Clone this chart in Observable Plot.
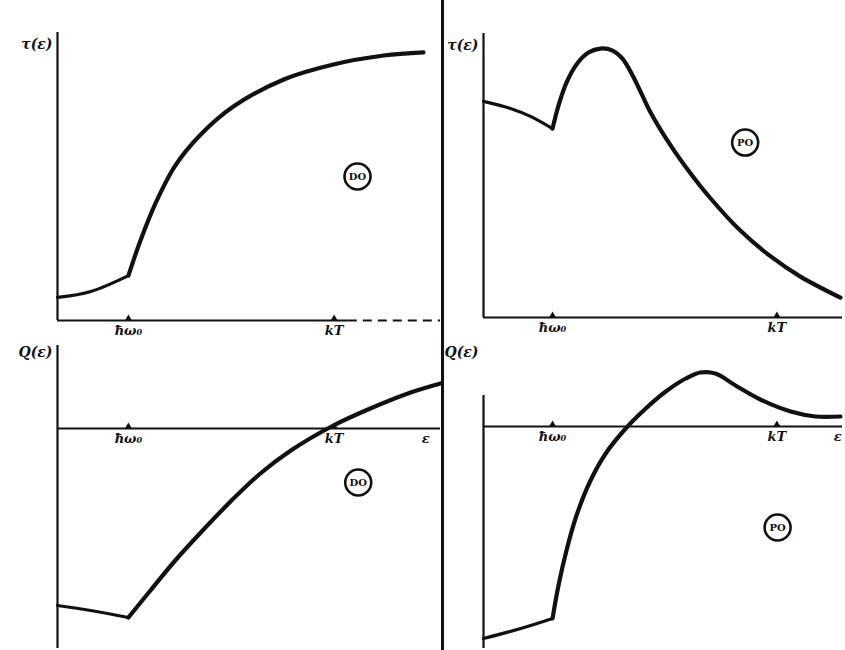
<!DOCTYPE html>
<html><head><meta charset="utf-8">
<script src="https://cdn.jsdelivr.net/npm/d3@7"></script>
<script src="https://cdn.jsdelivr.net/npm/@observablehq/plot@0.6"></script>
<style>
body{margin:0;background:#fff;}
#chart{position:relative;width:845px;height:650px;overflow:hidden;background:#fff;}
#chart svg{position:absolute;}
.sep{position:absolute;left:441px;top:0;width:3px;height:650px;background:#111;}
</style></head><body><div id="chart"><div class="sep"></div></div>
<script>
// Energy ε in units of ħω₀ (ħω₀ = 1); curve values in arbitrary units.
const tauDO_E = [0, 0.47, 1.0, 1.17, 1.38, 1.66, 2.02, 2.48, 3.19, 3.89, 4.60, 5.16];
const tauDO_V = [0.080, 0.101, 0.156, 0.278, 0.406, 0.538, 0.646, 0.743, 0.837, 0.889, 0.920, 0.931];

const tauPO_E = [0, 0.39, 0.68, 1.0, 1.086, 1.202, 1.347, 1.52, 1.695, 1.87, 2.01, 2.16, 2.30, 2.42, 2.71, 3.00, 3.29, 3.72, 4.16, 4.59, 5.17];
const tauPO_V = [0.761, 0.736, 0.708, 0.665, 0.746, 0.827, 0.891, 0.933, 0.947, 0.940, 0.912, 0.852, 0.782, 0.722, 0.606, 0.507, 0.419, 0.306, 0.215, 0.144, 0.070];

const QDO_E = [0, 0.47, 1.0, 1.31, 1.66, 2.02, 2.44, 2.86, 3.29, 3.89, 4.41, 4.98, 5.40];
const QDO_V = [-0.885, -0.91, -0.945, -0.81, -0.66, -0.52, -0.365, -0.225, -0.11, 0.015, 0.10, 0.18, 0.225];

const QPO_E = [0, 0.54, 1.0, 1.086, 1.202, 1.347, 1.55, 1.78, 2.06, 2.35, 2.64, 2.93, 3.14, 3.36, 3.65, 4.01, 4.45, 4.81, 5.17];
const QPO_V = [-1.06, -1.01, -0.96, -0.795, -0.62, -0.445, -0.27, -0.13, -0.01, 0.09, 0.175, 0.24, 0.27, 0.265, 0.205, 0.135, 0.075, 0.05, 0.05];

// Axis marks
const tickNames = ["ħω₀", "kT", "ε"];
const leftTicks = [1, 3.9, 5.19];
const rightTicks = [1, 4.25, 5.13];
const yLabels = ["τ(ε)", "τ(ε)", "Q(ε)", "Q(ε)"];
const circleLabels = ["DO", "PO", "DO", "PO"];

const FONT = "DejaVu Serif";
const chart = document.getElementById("chart");

function panel(o) {
  const pts = o.E.map((e, i) => ({e, v: o.V[i]}));
  const pre = pts.filter(d => d.e <= 1);
  const post = pts.filter(d => d.e >= 1);
  const tickData = o.tickPos.slice(0, 2);
  const labelData = o.tickPos.slice(0, o.showEps ? 3 : 2).map((x, i) => ({x, t: tickNames[i]}));
  const marks = [
    Plot.ruleX([0], {y1: o.axisBottom, y2: o.axisTop, strokeWidth: 2.2, stroke: "#111"}),
    Plot.ruleY([0], {x1: 0, x2: o.dashFrom ?? o.xDomain[1], strokeWidth: 2, stroke: "#111"}),
  ];
  if (o.dashFrom) marks.push(Plot.ruleY([0], {x1: o.dashFrom, x2: o.xDomain[1], strokeWidth: 2, stroke: "#111", strokeDasharray: "9,6"}));
  marks.push(
    Plot.dot(tickData, {x: d => d, y: 0, symbol: "triangle", r: 2.6, fill: "#111", stroke: null, dy: -2}),
    Plot.text(labelData, {x: "x", y: 0, text: "t", dy: 5, lineAnchor: "top", fontSize: 13, fontWeight: "bold", fontStyle: "italic", fontFamily: FONT, fill: "#111"}),
    Plot.line(pre, {x: "e", y: "v", curve: "catmull-rom", strokeWidth: 3.2, stroke: "#111"}),
    Plot.line(post, {x: "e", y: "v", curve: "catmull-rom", strokeWidth: 4.2, stroke: "#111"}),
    Plot.text([o.yLabel], {x: 0, y: o.yLabelAt, text: d => d, textAnchor: "end", dx: -5, fontSize: 14, fontWeight: "bold", fontStyle: "italic", fontFamily: FONT, fill: "#111"}),
    Plot.dot([o.circle], {x: "x", y: "y", r: 13, stroke: "#111", strokeWidth: 2.6, fill: "white"}),
    Plot.text([o.circle], {x: "x", y: "y", text: "t", fontSize: 10, fontWeight: "bold", fontFamily: FONT, fill: "#111"})
  );
  const svg = Plot.plot({
    width: o.width, height: o.height,
    marginLeft: o.ml, marginRight: o.mr, marginTop: o.mt, marginBottom: o.mb,
    x: {domain: o.xDomain, axis: null},
    y: {domain: o.yDomain, axis: null},
    style: {background: "transparent", overflow: "visible"},
    marks
  });
  svg.style.left = o.left + "px";
  svg.style.top = o.top + "px";
  chart.appendChild(svg);
}

// top-left: τ(ε), DO
panel({E: tauDO_E, V: tauDO_V, left: 0, top: 0, width: 445, height: 360, ml: 57, mr: 5, mt: 32, mb: 40,
  xDomain: [0, 5.4], yDomain: [0, 1], axisTop: 1, axisBottom: 0, tickPos: leftTicks, showEps: false,
  dashFrom: 4.1, yLabel: yLabels[0], yLabelAt: 0.958, circle: {x: 4.23, y: 0.5, t: circleLabels[0]}});

// top-right: τ(ε), PO
panel({E: tauPO_E, V: tauPO_V, left: 445, top: 0, width: 400, height: 360, ml: 38, mr: 3, mt: 33, mb: 43,
  xDomain: [0, 5.2], yDomain: [0, 1], axisTop: 1, axisBottom: 0, tickPos: rightTicks, showEps: false,
  yLabel: yLabels[1], yLabelAt: 0.958, circle: {x: 3.79, y: 0.616, t: circleLabels[1]}});

// bottom-left: Q(ε), DO
panel({E: QDO_E, V: QDO_V, left: 0, top: 330, width: 445, height: 320, ml: 57, mr: 5, mt: 15, mb: 2,
  xDomain: [0, 5.4], yDomain: [-1.1, 0.415], axisTop: 0.415, axisBottom: -1.1, tickPos: leftTicks, showEps: true,
  yLabel: yLabels[2], yLabelAt: 0.38, circle: {x: 4.24, y: -0.27, t: circleLabels[2]}});

// bottom-right: Q(ε), PO
panel({E: QPO_E, V: QPO_V, left: 445, top: 330, width: 400, height: 320, ml: 38, mr: 3, mt: 30, mb: 2,
  xDomain: [0, 5.2], yDomain: [-1.11, 0.33], axisTop: 0.155, axisBottom: -1.11, tickPos: rightTicks, showEps: true,
  yLabel: yLabels[3], yLabelAt: 0.37, circle: {x: 4.26, y: -0.505, t: circleLabels[3]}});
</script>
</body></html>
